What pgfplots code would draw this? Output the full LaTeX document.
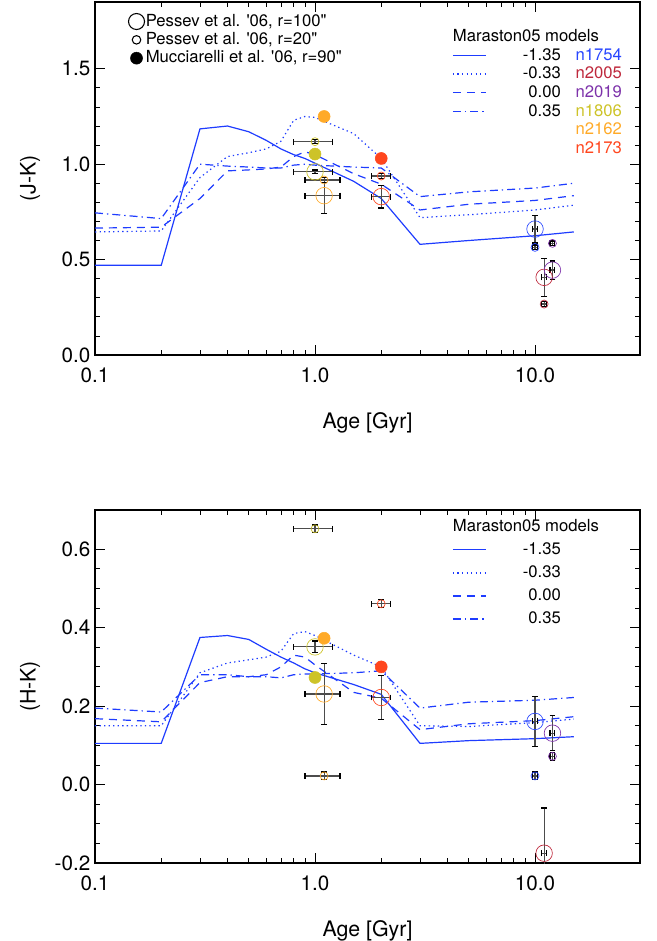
\documentclass[border=0pt]{standalone}
\usepackage{fontspec}
\setmainfont{TeX Gyre Heros}
\usepackage{pgfplots}
\pgfplotsset{compat=1.18}

\definecolor{mblue}{RGB}{30,60,255}
\definecolor{c1754}{RGB}{40,70,255}
\definecolor{c2005}{RGB}{190,40,60}
\definecolor{c2019}{RGB}{125,50,170}
\definecolor{c1806}{RGB}{205,195,40}
\definecolor{c2162}{RGB}{255,170,40}
\definecolor{c2173}{RGB}{255,70,30}

\pgfplotsset{
  mline/.style={color=mblue, line width=0.9pt, mark=none},
  mlinedot/.style={mline, dash pattern=on 1pt off 2.4pt},
  mlinedash/.style={mline, dash pattern=on 6pt off 4.5pt},
  mlinedashdot/.style={mline, dash pattern=on 6pt off 3pt on 1pt off 3pt},
  obserr/.style={
    error bars/x dir=both, error bars/x explicit,
    error bars/y dir=both, error bars/y explicit,
    error bars/error mark=|,
    error bars/error bar style={black!70, line width=0.9pt, solid},
    error bars/error mark options={black, line width=0.9pt, mark size=2.2pt, solid},
  },
  obsbig/.style={only marks, mark=o, mark size=6.2pt, mark options={line width=0.5pt}, obserr},
  obssmall/.style={only marks, mark=o, mark size=3pt, mark options={line width=0.5pt}, obserr},
  obsmuc/.style={only marks, mark=*, mark size=4.5pt},
}

\begin{document}
\begin{tikzpicture}

% ---------------- (J-K) ----------------
\begin{axis}[
    width=408.75pt, height=264.75pt, scale only axis,
    xmode=log, xmin=0.1, xmax=30,
    xtick={0.1,1,10}, xticklabels={0.1,1.0,10.0},
    ymin=0, ymax=1.85,
    ytick={0,0.5,1,1.5}, yticklabels={0.0,0.5,1.0,1.5},
    minor y tick num=4,
    tick align=inside,
    major tick length=7.5pt, minor tick length=3.75pt,
    axis line style={line width=0.8pt},
    every tick/.append style={black, line width=0.6pt},
    ticklabel style={font=\fontsize{15.5}{18}\selectfont},
    xticklabel shift=6pt,
    every axis label/.append style={font=\fontsize{16}{18}\selectfont},
    xlabel={Age [Gyr]}, ylabel={(J-K)},
    every axis x label/.append style={at={(axis description cs:0.5,-0.192)}, anchor=center},
    every axis y label/.append style={at={(axis description cs:-0.119,0.5)}, anchor=center},
    legend cell align=left,
    legend style={draw=none, fill=none, font=\fontsize{12.5}{15}\selectfont,
      nodes={inner sep=1pt, text height=9pt, text depth=2pt},
      row sep=1pt, inner sep=0pt, at={(0.655,0.927)}, anchor=north west},
    legend image code/.code={\draw[#1, color=mblue, line width=1pt] (0pt,0pt) -- (25pt,0pt);},
]
\addlegendimage{empty legend}
\addlegendentry{\hspace{-26.5pt}Maraston05 models}
\addplot[mline] coordinates {(0.1,0.47)(0.2,0.47)(0.3,1.185)(0.4,1.20)(0.5,1.17)(0.6,1.125)(0.7,1.08)(0.8,1.05)(0.9,1.03)(1,1.005)(1.5,0.91)(2,0.82)(3,0.58)(5,0.60)(10,0.625)(15,0.645)};
\addlegendentry{\makebox[54.5pt][r]{-1.35}\hspace{11pt}\textcolor{c1754}{n1754}}
\addplot[mlinedot] coordinates {(0.1,0.645)(0.2,0.65)(0.3,0.93)(0.4,1.04)(0.5,1.06)(0.6,1.08)(0.7,1.12)(0.8,1.23)(0.9,1.25)(1,1.245)(1.5,1.16)(2,1.03)(3,0.72)(5,0.735)(10,0.76)(15,0.785)};
\addlegendentry{\makebox[54.5pt][r]{-0.33}\hspace{11pt}\textcolor{c2005}{n2005}}
\addplot[mlinedash] coordinates {(0.1,0.665)(0.2,0.67)(0.3,0.82)(0.4,0.965)(0.5,0.97)(0.6,0.975)(0.7,0.985)(0.8,1.04)(0.9,1.065)(1,1.05)(1.5,0.95)(2,0.895)(3,0.76)(5,0.79)(10,0.81)(15,0.835)};
\addlegendentry{\makebox[54.5pt][r]{0.00}\hspace{11pt}\textcolor{c2019}{n2019}}
\addplot[mlinedashdot] coordinates {(0.1,0.745)(0.2,0.715)(0.3,1.0)(0.4,0.99)(0.5,0.985)(0.6,0.98)(0.7,0.98)(0.8,0.995)(0.9,1.0)(1,0.995)(1.5,0.985)(2,0.98)(3,0.83)(5,0.855)(10,0.875)(15,0.90)};
\addlegendentry{\makebox[54.5pt][r]{0.35}\hspace{11pt}\textcolor{c1806}{n1806}}
\addlegendimage{empty legend}
\addlegendentry{\makebox[54.5pt][r]{}\hspace{11pt}\textcolor{c2162}{n2162}}
\addlegendimage{empty legend}
\addlegendentry{\makebox[54.5pt][r]{}\hspace{11pt}\textcolor{c2173}{n2173}}
% Pessev r=100
\addplot[obsbig, color=c1806, forget plot] coordinates {(1.0,0.96) +- (0.2,0.01)};
\addplot[obsbig, color=c2162, forget plot] coordinates {(1.1,0.835) +- (0.2,0.095)};
\addplot[obsbig, color=c2173, forget plot] coordinates {(2.0,0.83) +- (0.2,0.06)};
\addplot[obsbig, color=c1754, forget plot] coordinates {(10,0.66) +- (0.3,0.073)};
\addplot[obsbig, color=c2005, forget plot] coordinates {(11,0.407) +- (0.3,0.10)};
\addplot[obsbig, color=c2019, forget plot] coordinates {(12,0.445) +- (0.3,0.048)};
% Pessev r=20
\addplot[obssmall, color=c1806, forget plot] coordinates {(1.0,1.118) +- (0.2,0.01)};
\addplot[obssmall, color=c2162, forget plot] coordinates {(1.1,0.917) +- (0.2,0.015)};
\addplot[obssmall, color=c2173, forget plot] coordinates {(2.0,0.938) +- (0.2,0.015)};
\addplot[obssmall, color=c1754, forget plot] coordinates {(10,0.564) +- (0.3,0.012)};
\addplot[obssmall, color=c2005, forget plot] coordinates {(11,0.267) +- (0.3,0.012)};
\addplot[obssmall, color=c2019, forget plot] coordinates {(12,0.585) +- (0.3,0.012)};
% Mucciarelli r=90
\addplot[obsmuc, color=c1806, forget plot] coordinates {(1.0,1.053)};
\addplot[obsmuc, color=c2162, forget plot] coordinates {(1.1,1.25)};
\addplot[obsmuc, color=c2173, forget plot] coordinates {(2.0,1.03)};
\end{axis}

% legend of the observed points (overlay, same frame)
\begin{axis}[
    width=408.75pt, height=264.75pt, scale only axis,
    hide axis, xmin=0, xmax=1, ymin=0, ymax=1,
    legend cell align=left,
    legend style={draw=none, fill=none, font=\fontsize{12.5}{15}\selectfont,
      nodes={inner sep=1pt, text height=9pt, text depth=2pt},
      at={(0.061,0.97)}, anchor=north west, row sep=0.75pt, inner sep=0pt},
]
\addplot[draw=none, forget plot] coordinates {(0.5,-1)};
\addlegendimage{only marks, mark=o, mark size=6pt, black, mark options={line width=0.8pt}}
\addlegendentry{Pessev et al. \textquotesingle 06, r=100\textquotedbl}
\addlegendimage{only marks, mark=o, mark size=3.2pt, black, mark options={line width=0.8pt}}
\addlegendentry{Pessev et al. \textquotesingle 06, r=20\textquotedbl}
\addlegendimage{only marks, mark=*, mark size=4.5pt, black}
\addlegendentry{Mucciarelli et al. \textquotesingle 06, r=90\textquotedbl}
\end{axis}

% ---------------- (H-K) ----------------
\begin{axis}[at={(0,-381pt)},
    width=408.75pt, height=264.75pt, scale only axis,
    xmode=log, xmin=0.1, xmax=30,
    xtick={0.1,1,10}, xticklabels={0.1,1.0,10.0},
    ymin=-0.2, ymax=0.7,
    ytick={-0.2,0,0.2,0.4,0.6}, yticklabels={-0.2,0.0,0.2,0.4,0.6},
    minor y tick num=3,
    tick align=inside,
    major tick length=7.5pt, minor tick length=3.75pt,
    axis line style={line width=0.8pt},
    every tick/.append style={black, line width=0.6pt},
    ticklabel style={font=\fontsize{15.5}{18}\selectfont},
    xticklabel shift=6pt,
    every axis label/.append style={font=\fontsize{16}{18}\selectfont},
    xlabel={Age [Gyr]}, ylabel={(H-K)},
    every axis x label/.append style={at={(axis description cs:0.5,-0.192)}, anchor=center},
    every axis y label/.append style={at={(axis description cs:-0.119,0.5)}, anchor=center},
    legend cell align=left,
    legend style={draw=none, fill=none, font=\fontsize{12.5}{15}\selectfont,
      nodes={inner sep=1pt, text height=9pt, text depth=2pt},
      row sep=4.3pt, inner sep=0pt, at={(0.655,0.978)}, anchor=north west},
    legend image code/.code={\draw[#1, color=mblue, line width=1pt] (0pt,0pt) -- (25pt,0pt);},
]
\addlegendimage{empty legend}
\addlegendentry{\hspace{-26.5pt}Maraston05 models}
\addplot[mline] coordinates {(0.1,0.105)(0.2,0.105)(0.3,0.375)(0.4,0.38)(0.5,0.37)(0.6,0.345)(0.7,0.325)(0.8,0.31)(0.9,0.295)(1,0.285)(1.5,0.255)(2,0.23)(3,0.105)(5,0.112)(10,0.117)(15,0.122)};
\addlegendentry{\makebox[54.5pt][r]{-1.35}}
\addplot[mlinedot] coordinates {(0.1,0.15)(0.2,0.15)(0.3,0.285)(0.4,0.31)(0.5,0.318)(0.6,0.325)(0.7,0.34)(0.8,0.385)(0.9,0.39)(1,0.38)(1.5,0.33)(2,0.30)(3,0.15)(5,0.148)(10,0.158)(15,0.167)};
\addlegendentry{\makebox[54.5pt][r]{-0.33}}
\addplot[mlinedash] coordinates {(0.1,0.168)(0.2,0.16)(0.3,0.26)(0.4,0.275)(0.5,0.275)(0.6,0.28)(0.7,0.30)(0.8,0.33)(0.9,0.325)(1,0.305)(1.5,0.235)(2,0.22)(3,0.14)(5,0.155)(10,0.163)(15,0.173)};
\addlegendentry{\makebox[54.5pt][r]{0.00}}
\addplot[mlinedashdot] coordinates {(0.1,0.195)(0.2,0.185)(0.3,0.28)(0.4,0.28)(0.5,0.275)(0.6,0.275)(0.7,0.272)(0.8,0.28)(0.9,0.282)(1,0.282)(1.5,0.285)(2,0.29)(3,0.195)(5,0.21)(10,0.215)(15,0.222)};
\addlegendentry{\makebox[54.5pt][r]{0.35}}
% Pessev r=100
\addplot[obsbig, color=c1806, forget plot] coordinates {(1.0,0.351) +- (0.2,0.015)};
\addplot[obsbig, color=c2162, forget plot] coordinates {(1.1,0.231) +- (0.2,0.077)};
\addplot[obsbig, color=c2173, forget plot] coordinates {(2.0,0.222) +- (0.2,0.057)};
\addplot[obsbig, color=c1754, forget plot] coordinates {(10,0.161) +- (0.3,0.064)};
\addplot[obsbig, color=c2005, forget plot] coordinates {(11,-0.175) +- (0.3,0.115)};
\addplot[obsbig, color=c2019, forget plot] coordinates {(12,0.131) +- (0.3,0.045)};
% Pessev r=20
\addplot[obssmall, color=c1806, forget plot] coordinates {(1.0,0.652) +- (0.2,0.01)};
\addplot[obssmall, color=c2162, forget plot] coordinates {(1.1,0.022) +- (0.2,0.01)};
\addplot[obssmall, color=c2173, forget plot] coordinates {(2.0,0.461) +- (0.2,0.01)};
\addplot[obssmall, color=c1754, forget plot] coordinates {(10,0.022) +- (0.3,0.01)};
\addplot[obssmall, color=c2019, forget plot] coordinates {(12,0.072) +- (0.3,0.01)};
% Mucciarelli r=90
\addplot[obsmuc, color=c1806, forget plot] coordinates {(1.0,0.273)};
\addplot[obsmuc, color=c2162, forget plot] coordinates {(1.1,0.373)};
\addplot[obsmuc, color=c2173, forget plot] coordinates {(2.0,0.30)};
\end{axis}

\pgfresetboundingbox
\path (-71.25pt,266.25pt) rectangle (420.75pt,-439.5pt);
\end{tikzpicture}
\end{document}
